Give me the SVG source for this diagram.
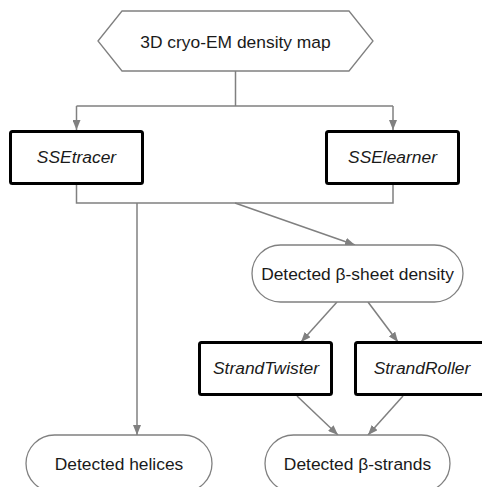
<svg xmlns="http://www.w3.org/2000/svg" width="482" height="487" viewBox="0 0 482 487">
  <defs>
    <marker id="arrow" viewBox="0 0 10 8" refX="10" refY="4" markerWidth="10" markerHeight="8" markerUnits="userSpaceOnUse" orient="auto">
      <path d="M0,0 L10,4 L0,8 z" fill="#808080"/>
    </marker>
    <style>
      text { font-family: "Liberation Sans", Arial, sans-serif; font-size: 17.4px; fill: #1a1a1a; text-anchor: middle; }
      .tool text { font-style: italic; }
      .data { fill: #ffffff; stroke: #808080; stroke-width: 1.3; }
      .tool rect { fill: #ffffff; stroke: #000000; stroke-width: 3; }
      .edges path { fill: none; stroke: #808080; stroke-width: 1.5; }
      .edges .arr { marker-end: url(#arrow); }
    </style>
  </defs>
  <rect width="482" height="487" fill="#ffffff"/>

  <g class="edges">
    <path d="M235.5,71 V106 M76.5,106 H393"/>
    <path class="arr" d="M76.5,106 V130"/>
    <path class="arr" d="M393,106 V130"/>
    <path d="M76.5,185 V203 H393 V185"/>
    <path class="arr" d="M137,203 V435"/>
    <path class="arr" d="M235,203 L355,245"/>
    <path class="arr" d="M337,302 L301,342"/>
    <path class="arr" d="M368,302 L398,342"/>
    <path class="arr" d="M297,396 L338,435"/>
    <path class="arr" d="M403,396 L368,435"/>
  </g>

  <g id="density-map">
    <polygon class="data" points="98,41 122,11 349,11 373,41 349,71 122,71"/>
    <text x="235.5" y="47.5">3D cryo-EM density map</text>
  </g>

  <g id="ssetracer" class="tool">
    <rect x="10.5" y="131.5" width="132" height="52" rx="2"/>
    <text x="76.5" y="163">SSEtracer</text>
  </g>

  <g id="ssel" class="tool">
    <rect x="326.5" y="131.5" width="132" height="52" rx="2"/>
    <text x="392.5" y="163">SSElearner</text>
  </g>

  <g id="sheet-density">
    <rect class="data" x="252" y="245" width="211" height="57" rx="28.5"/>
    <text x="357.5" y="280">Detected β-sheet density</text>
  </g>

  <g id="strandtwister" class="tool">
    <rect x="199.5" y="342.5" width="132" height="52" rx="2"/>
    <text x="266" y="374">StrandTwister</text>
  </g>

  <g id="strandroller" class="tool">
    <rect x="355.5" y="342.5" width="132" height="52" rx="2"/>
    <text x="422" y="374">StrandRoller</text>
  </g>

  <g id="helices">
    <rect class="data" x="26" y="435" width="186" height="57" rx="28.5"/>
    <text x="119" y="470">Detected helices</text>
  </g>

  <g id="strands">
    <rect class="data" x="265" y="435" width="185" height="57" rx="28.5"/>
    <text x="357.5" y="470">Detected β-strands</text>
  </g>
</svg>
